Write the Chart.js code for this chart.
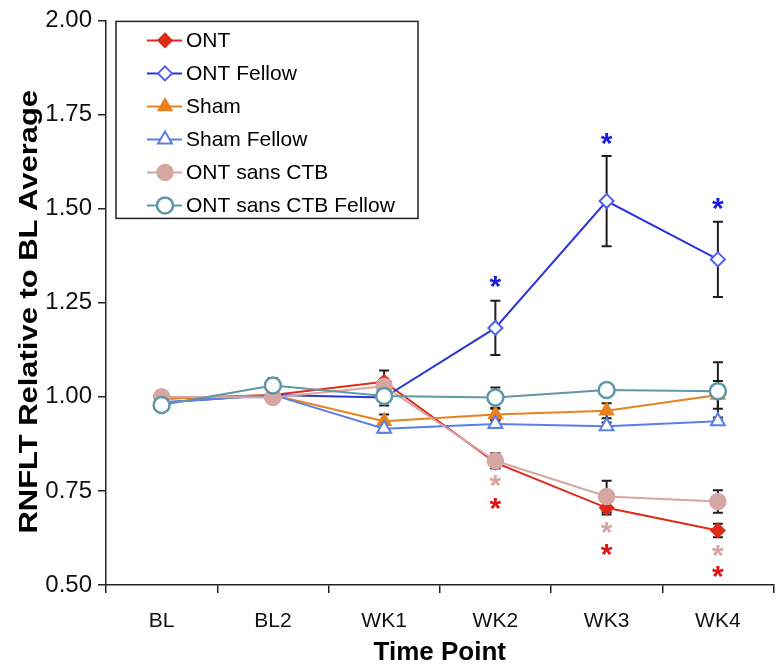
<!DOCTYPE html>
<html>
<head>
<meta charset="utf-8">
<script src="https://cdn.jsdelivr.net/npm/chart.js@4.4.1/dist/chart.umd.min.js"></script>
<style>
  html, body { margin: 0; padding: 0; background: #fff; }
  #wrap { width: 784px; height: 670px; }
</style>
</head>
<body>
<div id="wrap"><canvas id="chart" width="784" height="670"></canvas></div>
<script>
const FONT = "'Liberation Sans', Arial, sans-serif";

// Datos
const timePoints = ["BL", "BL2", "WK1", "WK2", "WK3", "WK4"];

const ontVals = [0.995, 1.005, 1.04, 0.825, 0.705, 0.645];
const ontErr = [0.01, 0.01, 0.03, 0.015, 0.018, 0.018];

const ontFellowVals = [0.985, 1.005, 0.998, 1.183, 1.52, 1.365];
const ontFellowErr = [0.01, 0.01, 0.01, 0.072, 0.12, 0.1];

const shamVals = [0.995, 1.005, 0.935, 0.953, 0.963, 1.005];
const shamErr = [0.01, 0.01, 0.018, 0.015, 0.02, 0.037];

const shamFellowVals = [0.985, 1.005, 0.915, 0.928, 0.922, 0.935];
const shamFellowErr = [0.01, 0.01, 0.01, 0.01, 0.01, 0.01];

const sansVals = [1.0, 0.998, 1.028, 0.83, 0.735, 0.722];
const sansErr = [0.015, 0.01, 0.02, 0.02, 0.042, 0.03];

const sansFellowVals = [0.978, 1.03, 1.002, 0.998, 1.018, 1.015];
const sansFellowErr = [0.015, 0.02, 0.025, 0.027, 0.015, 0.077];

// Asteriscos de significancia (posicion en unidades del eje Y)
const ontFellowStars = [null, null, null, 1.29, 1.668, 1.497];
const sansStars = [null, null, null, 0.761, 0.637, 0.574];
const ontStars = [null, null, null, 0.7, 0.576, 0.52];

const yMin = 0.5, yMax = 2.0, yStep = 0.25;
const yTitle = "RNFLT Relative to BL Average";

const datasets = [
  { label: "ONT", data: ontVals, err: ontErr, borderColor: "#df2a18", backgroundColor: "#df2a18",
    pointStyle: "rectRot", pointRadius: 7, pointBorderWidth: 1.5 },
  { label: "ONT Fellow", data: ontFellowVals, err: ontFellowErr, borderColor: "#2b35d8", backgroundColor: "#ffffff",
    pointBorderColor: "#4e62ee", pointStyle: "rectRot", pointRadius: 7, pointBorderWidth: 2 },
  { label: "Sham", data: shamVals, err: shamErr, borderColor: "#e8821f", backgroundColor: "#e8821f",
    pointStyle: "triangle", pointRadius: 8, pointBorderWidth: 1.5 },
  { label: "Sham Fellow", data: shamFellowVals, err: shamFellowErr, borderColor: "#5b7fe8", backgroundColor: "#ffffff",
    pointStyle: "triangle", pointRadius: 8, pointBorderWidth: 2 },
  { label: "ONT sans CTB", data: sansVals, err: sansErr, borderColor: "#d6a6a2", backgroundColor: "#d6a6a2",
    pointStyle: "circle", pointRadius: 8, pointBorderWidth: 1.5 },
  { label: "ONT sans CTB Fellow", data: sansFellowVals, err: sansFellowErr, borderColor: "#5f97a6", backgroundColor: "#ffffff",
    pointStyle: "circle", pointRadius: 8, pointBorderWidth: 2.5 }
];
datasets.forEach((d, i) => {
  d.borderWidth = 2;
  d.tension = 0;
  d.order = -i; // las series posteriores quedan encima, como en Excel
  if (!d.pointBorderColor) d.pointBorderColor = d.borderColor;
  d.pointBackgroundColor = d.backgroundColor;
});

const starSets = [
  { values: ontFellowStars, color: "#1a1ae0" },
  { values: sansStars, color: "#d6a6a2" },
  { values: ontStars, color: "#e01414" }
];

// barras de error (debajo de los marcadores)
const errorBars = {
  id: "errorBars",
  beforeDatasetsDraw(chart) {
    const { ctx, scales: { x, y } } = chart;
    ctx.save();
    ctx.strokeStyle = "#1e1e1e";
    ctx.lineWidth = 2;
    chart.data.datasets.forEach(ds => {
      ds.data.forEach((v, i) => {
        const e = ds.err[i];
        const px = x.getPixelForValue(i);
        const top = y.getPixelForValue(v + e);
        const bot = y.getPixelForValue(v - e);
        ctx.beginPath();
        ctx.moveTo(px, top); ctx.lineTo(px, bot);
        ctx.moveTo(px - 5, top); ctx.lineTo(px + 5, top);
        ctx.moveTo(px - 5, bot); ctx.lineTo(px + 5, bot);
        ctx.stroke();
      });
    });
    ctx.restore();
  }
};

const stars = {
  id: "stars",
  afterDatasetsDraw(chart) {
    const { ctx, scales: { x, y } } = chart;
    const size = 30;
    ctx.save();
    ctx.font = "bold " + size + "px " + FONT;
    ctx.textAlign = "center";
    ctx.textBaseline = "alphabetic";
    starSets.forEach(s => {
      ctx.fillStyle = s.color;
      s.values.forEach((v, i) => {
        if (v === null) return;
        ctx.fillText("*", x.getPixelForValue(i), y.getPixelForValue(v) + size * 0.27);
      });
    });
    ctx.restore();
  }
};

// titulo del eje Y, algo estirado como en la figura original
const yAxisTitle = {
  id: "yAxisTitle",
  afterDraw(chart) {
    const { ctx, chartArea } = chart;
    ctx.save();
    ctx.translate(30, (chartArea.top + chartArea.bottom) / 2 + 9);
    ctx.rotate(-Math.PI / 2);
    ctx.scale(1.19, 1);
    ctx.font = "bold 26px " + FONT;
    ctx.fillStyle = "#000";
    ctx.textAlign = "center";
    ctx.textBaseline = "middle";
    ctx.fillText(yTitle, 0, 0);
    ctx.restore();
  }
};

// leyenda con recuadro dentro del area del grafico
const boxLegend = {
  id: "boxLegend",
  afterDraw(chart) {
    const { ctx, chartArea } = chart;
    const left = chartArea.left + 10, top = chartArea.top + 1;
    const w = 302, h = 197, rowH = 33;
    ctx.save();
    ctx.fillStyle = "#fff";
    ctx.fillRect(left, top, w, h);
    ctx.strokeStyle = "#222";
    ctx.lineWidth = 1.5;
    ctx.strokeRect(left, top, w, h);
    ctx.font = "21px " + FONT;
    ctx.textBaseline = "middle";
    chart.data.datasets.forEach((ds, i) => {
      const yy = top + 19 + i * rowH;
      ctx.strokeStyle = ds.borderColor;
      ctx.lineWidth = 2;
      ctx.beginPath();
      ctx.moveTo(left + 31, yy); ctx.lineTo(left + 66, yy);
      ctx.stroke();
      ctx.fillStyle = ds.pointBackgroundColor;
      ctx.strokeStyle = ds.pointBorderColor;
      ctx.lineWidth = ds.pointBorderWidth;
      Chart.helpers.drawPoint(ctx, { pointStyle: ds.pointStyle, radius: ds.pointRadius, borderWidth: ds.pointBorderWidth, rotation: 0 }, left + 49, yy);
      ctx.fillStyle = "#000";
      ctx.fillText(ds.label, left + 70, yy + 1);
    });
    ctx.restore();
  }
};

new Chart(document.getElementById("chart"), {
  type: "line",
  data: { labels: timePoints, datasets: datasets },
  options: {
    responsive: false,
    animation: false,
    layout: { padding: { top: 14, right: 6, left: 0, bottom: 0 } },
    plugins: { legend: { display: false }, tooltip: { enabled: false } },
    scales: {
      x: {
        offset: true,
        grid: { display: true, drawOnChartArea: false, drawTicks: true, tickLength: 8, color: "#222", lineWidth: 1.5, offset: true },
        border: { display: true, color: "#222", width: 1.5 },
        ticks: { color: "#111", font: { family: FONT, size: 21 }, padding: 16 },
        title: { display: true, text: "Time Point", color: "#000", font: { family: FONT, size: 26, weight: "bold" }, padding: { top: 0, bottom: 2 } },
        afterFit(scale) {
          scale.height = 85;
          scale.paddingLeft = 0;
          scale.paddingRight = 0;
        }
      },
      y: {
        min: yMin, max: yMax,
        ticks: { stepSize: yStep, color: "#111", font: { family: FONT, size: 24 }, padding: 6,
                 callback: v => Number(v).toFixed(2) },
        grid: { display: true, drawOnChartArea: false, drawTicks: true, tickLength: 8, color: "#222", lineWidth: 1.5 },
        border: { display: true, color: "#222", width: 1.5 },
        title: { display: false },
        afterFit(scale) { scale.width = 106; }
      }
    }
  },
  plugins: [errorBars, stars, yAxisTitle, boxLegend]
});
</script>
</body>
</html>
